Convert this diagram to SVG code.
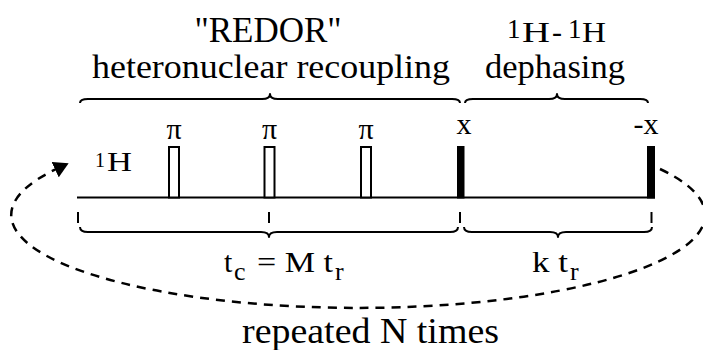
<svg xmlns="http://www.w3.org/2000/svg" width="703" height="350" viewBox="0 0 703 350">
  <style>
    text { font-family: "Liberation Serif", "Times New Roman", serif; fill: #000; }
    .ln { stroke: #000; stroke-width: 2; fill: none; }
    .brace { stroke: #000; stroke-width: 2; fill: none; stroke-linejoin: round; }
    .open { stroke: #000; stroke-width: 2; fill: #fff; }
    .solid { fill: #000; stroke: none; }
    .tick { stroke: #000; stroke-width: 2; }
    .loop { stroke: #000; stroke-width: 2.5; fill: none; stroke-dasharray: 9 7; }
  </style>
  <defs>
    <marker id="arrow" viewBox="0 0 15 17" refX="1" refY="8.5" markerWidth="15" markerHeight="17" markerUnits="userSpaceOnUse" orient="auto">
      <path d="M0,0 L15,8.5 L0,17 z" fill="#000"/>
    </marker>
  </defs>
  <rect width="703" height="350" fill="#fff"/>

  <g id="titles">
    <text x="268" y="42" font-size="35" text-anchor="middle">"REDOR"</text>
    <text x="92" y="78" font-size="34" textLength="358" lengthAdjust="spacingAndGlyphs">heteronuclear recoupling</text>
    <text x="507" y="38" font-size="27">1</text>
    <text x="522" y="42" font-size="30" textLength="28" lengthAdjust="spacingAndGlyphs">H</text>
    <text x="552" y="42" font-size="30">-</text>
    <text x="568" y="38" font-size="27">1</text>
    <text x="582" y="42" font-size="30" textLength="24" lengthAdjust="spacingAndGlyphs">H</text>
    <text x="485" y="78" font-size="33" textLength="140" lengthAdjust="spacingAndGlyphs">dephasing</text>
  </g>

  <g id="braces">
    <path class="brace" d="M80,103 Q80,99 88,99 L262,99 Q270,99 270,94 Q270,99 278,99 L452,99 Q460,99 460,103"/>
    <path class="brace" d="M465,103 Q465,99 473,99 L549,99 Q557,99 557,94 Q557,99 565,99 L640,99 Q648,99 648,103"/>
    <path class="brace" d="M80,227 Q80,232 88,232 L261,232 Q269,232 269,237 Q269,232 277,232 L450,232 Q458,232 458,227"/>
    <path class="brace" d="M464,227 Q464,232 472,232 L550,232 Q558,232 558,237 Q558,232 566,232 L644,232 Q652,232 652,227"/>
  </g>

  <g id="channel">
    <text x="95" y="167" font-size="20">1</text>
    <text x="107" y="171" font-size="27" textLength="25" lengthAdjust="spacingAndGlyphs">H</text>
    <line class="ln" x1="77" y1="197.5" x2="655" y2="197.5"/>
  </g>

  <g id="pulse-pi-1">
    <rect class="open" x="169" y="147" width="10" height="50.5"/>
    <text x="174" y="139" font-size="30" text-anchor="middle">π</text>
  </g>
  <g id="pulse-pi-2">
    <rect class="open" x="264.5" y="147" width="10" height="50.5"/>
    <text x="269.5" y="139" font-size="30" text-anchor="middle">π</text>
  </g>
  <g id="pulse-pi-3">
    <rect class="open" x="361" y="147" width="10" height="50.5"/>
    <text x="366" y="139" font-size="30" text-anchor="middle">π</text>
  </g>
  <g id="pulse-x">
    <rect class="solid" x="457" y="146" width="7.5" height="52.5"/>
    <text x="464" y="134" font-size="30" text-anchor="middle">x</text>
  </g>
  <g id="pulse-minus-x">
    <rect class="solid" x="647" y="146" width="8" height="52.5"/>
    <text x="646" y="134" font-size="30" text-anchor="middle">-x</text>
  </g>

  <g id="ticks">
    <line class="tick" x1="78" y1="212" x2="78" y2="223"/>
    <line class="tick" x1="269" y1="212" x2="269" y2="223"/>
    <line class="tick" x1="460" y1="212" x2="460" y2="223"/>
    <line class="tick" x1="651.5" y1="212" x2="651.5" y2="223"/>
  </g>

  <g id="durations">
    <text x="224" y="272" font-size="30">t</text>
    <text x="234" y="280" font-size="26">c</text>
    <text x="257" y="272" font-size="30" textLength="76" lengthAdjust="spacingAndGlyphs">= M t</text>
    <text x="335" y="280" font-size="26">r</text>
    <text x="532" y="272" font-size="30" textLength="36" lengthAdjust="spacingAndGlyphs">k t</text>
    <text x="570" y="280" font-size="26">r</text>
  </g>

  <g id="connectors">
    <path class="loop" d="M660,169 A347,93 0 1 1 56,169.2" marker-end="url(#arrow)"/>
  </g>

  <g id="repeat-label">
    <text x="242" y="343" font-size="36" textLength="257" lengthAdjust="spacingAndGlyphs">repeated N times</text>
  </g>
</svg>
